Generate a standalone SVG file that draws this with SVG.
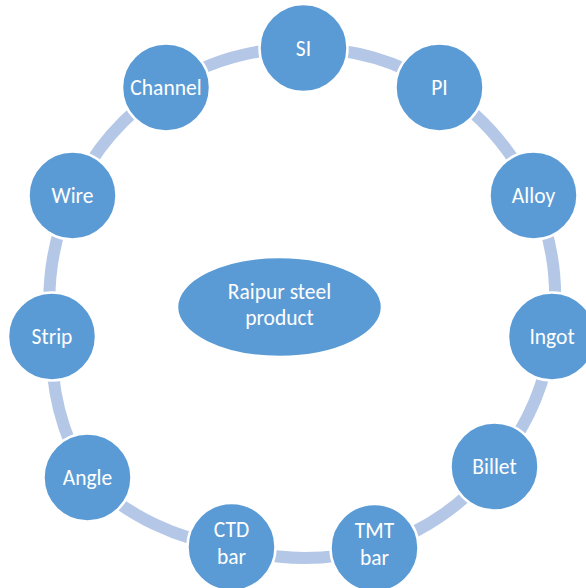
<svg xmlns="http://www.w3.org/2000/svg" width="586" height="588" viewBox="0 0 586 588">
  <style>
    .ring { fill: none; stroke: #B4C7E7; stroke-width: 12; }
    .node { fill: #5B9BD5; stroke: #FFFFFF; stroke-width: 2.5; }
    .label { fill: #FFFFFF; font-family: Carlito, Lato, "Open Sans", sans-serif; font-size: 21.5px; text-anchor: middle; }
  </style>
  <rect width="586" height="588" fill="#FFFFFF"/>

  <!-- ring segments linking neighbouring products -->
  <g id="connectors">
    <path class="ring" d="M303.5 48 A253 253 0 0 1 439.5 87.5"/>
    <path class="ring" d="M439.5 87.5 A253 253 0 0 1 533.5 195.5"/>
    <path class="ring" d="M533.5 195.5 A253 253 0 0 1 552 336.5"/>
    <path class="ring" d="M552 336.5 A253 253 0 0 1 494.5 466.5"/>
    <path class="ring" d="M494.5 466.5 A253 253 0 0 1 374.5 548"/>
    <path class="ring" d="M374.5 548 A253 253 0 0 1 231.5 547"/>
    <path class="ring" d="M231.5 547 A253 253 0 0 1 87.5 477.5"/>
    <path class="ring" d="M87.5 477.5 A253 253 0 0 1 52 336.5"/>
    <path class="ring" d="M52 336.5 A253 253 0 0 1 72.5 195.5"/>
    <path class="ring" d="M72.5 195.5 A253 253 0 0 1 166 87.5"/>
    <path class="ring" d="M166 87.5 A253 253 0 0 1 303.5 48"/>
  </g>

  <g id="center">
    <ellipse class="node" cx="279.5" cy="307" rx="102.5" ry="50"/>
    <text class="label" x="279.5" y="298.5">Raipur steel</text>
    <text class="label" x="279.5" y="324.5">product</text>
  </g>

  <g id="node-si">
    <circle class="node" cx="303.5" cy="48" r="44"/>
    <text class="label" x="303.5" y="55.5">SI</text>
  </g>
  <g id="node-pi">
    <circle class="node" cx="439.5" cy="87.5" r="44"/>
    <text class="label" x="439.5" y="95">PI</text>
  </g>
  <g id="node-alloy">
    <circle class="node" cx="533.5" cy="195.5" r="44"/>
    <text class="label" x="533.5" y="203">Alloy</text>
  </g>
  <g id="node-ingot">
    <circle class="node" cx="552" cy="336.5" r="44"/>
    <text class="label" x="552" y="344">Ingot</text>
  </g>
  <g id="node-billet">
    <circle class="node" cx="494.5" cy="466.5" r="44"/>
    <text class="label" x="494.5" y="474">Billet</text>
  </g>
  <g id="node-tmt">
    <circle class="node" cx="374.5" cy="548" r="44"/>
    <text class="label" x="374.5" y="538">TMT</text>
    <text class="label" x="374.5" y="565">bar</text>
  </g>
  <g id="node-ctd">
    <circle class="node" cx="231.5" cy="547" r="44"/>
    <text class="label" x="231.5" y="537">CTD</text>
    <text class="label" x="231.5" y="564">bar</text>
  </g>
  <g id="node-angle">
    <circle class="node" cx="87.5" cy="477.5" r="44"/>
    <text class="label" x="87.5" y="485">Angle</text>
  </g>
  <g id="node-strip">
    <circle class="node" cx="52" cy="336.5" r="44"/>
    <text class="label" x="52" y="344">Strip</text>
  </g>
  <g id="node-wire">
    <circle class="node" cx="72.5" cy="195.5" r="44"/>
    <text class="label" x="72.5" y="203">Wire</text>
  </g>
  <g id="node-channel">
    <circle class="node" cx="166" cy="87.5" r="44"/>
    <text class="label" x="166" y="95">Channel</text>
  </g>
</svg>
